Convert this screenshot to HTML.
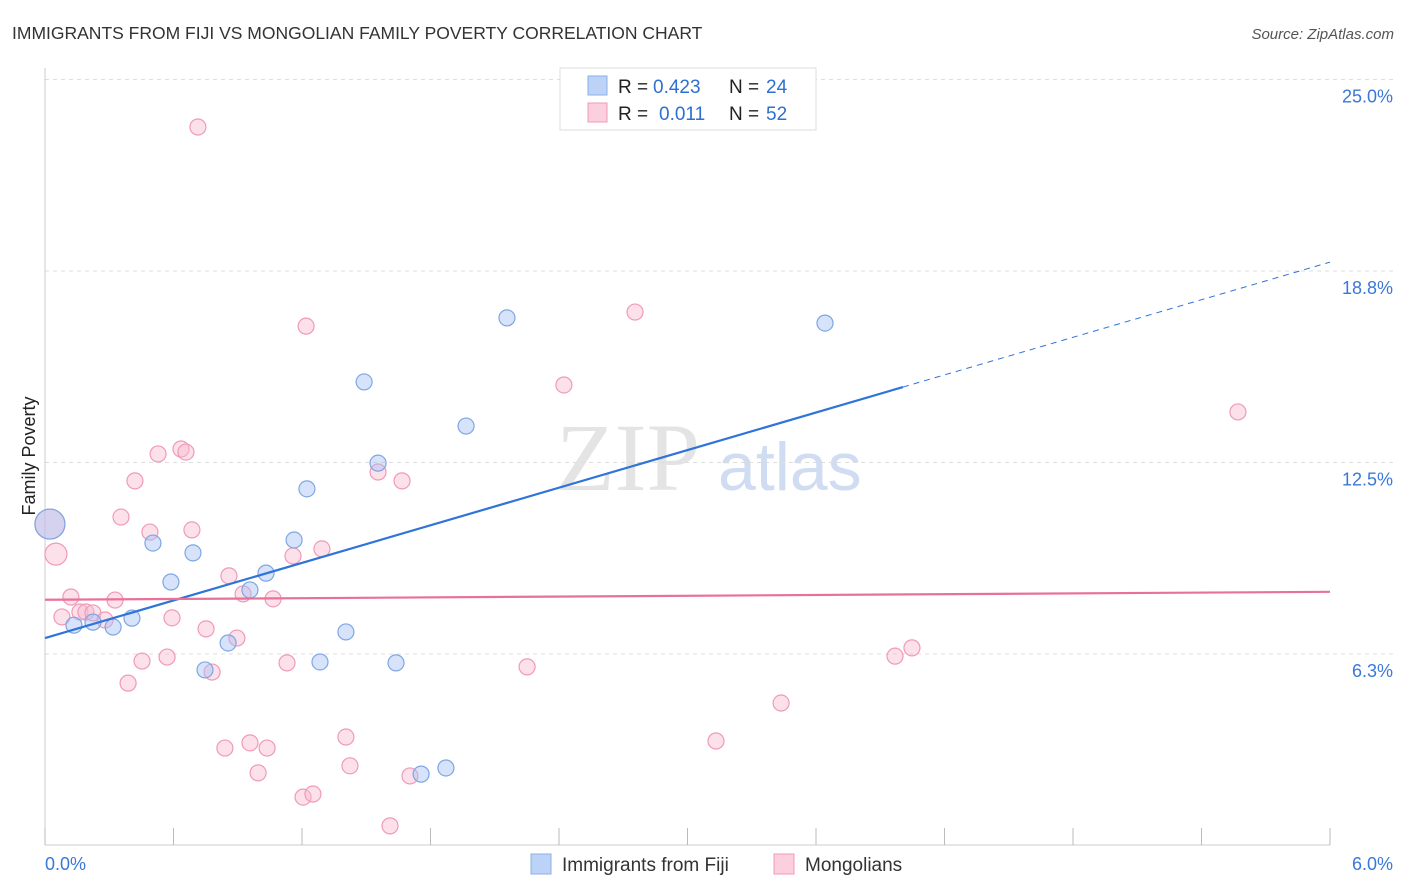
<!DOCTYPE html>
<html><head><meta charset="utf-8"><style>
body{margin:0;background:#fff;font-family:"Liberation Sans",sans-serif}
svg{display:block}
</style></head><body>
<svg id="chart" width="1406" height="892">
<text x="12" y="39" font-size="17.5" fill="#333">IMMIGRANTS FROM FIJI VS MONGOLIAN FAMILY POVERTY CORRELATION CHART</text>
<text x="1394" y="39" font-size="15" fill="#555" font-style="italic" text-anchor="end">Source: ZipAtlas.com</text>
<text x="35" y="456" font-size="18" fill="#222" text-anchor="middle" transform="rotate(-90 35 456)">Family Poverty</text>
<g><text x="556" y="490" font-family="Liberation Serif,serif" font-size="96" fill="#e4e4e4">ZIP</text><text x="718" y="490" font-size="68" fill="#cfdcf2">atlas</text></g>
<g id="grid"></g><g id="axes"></g><g id="marks"></g>
<g>
<rect x="560" y="68" width="256" height="62" fill="#fff" stroke="#ddd"/>
<rect x="588" y="76" width="19" height="19" fill="#bcd3f7" stroke="#8ab0e8"/>
<text x="618" y="93" font-size="19" fill="#222">R =</text>
<text x="653" y="93" font-size="19" fill="#2f6fd0">0.423</text>
<text x="729" y="93" font-size="19" fill="#222">N =</text>
<text x="766" y="93" font-size="19" fill="#2f6fd0">24</text>
<rect x="588" y="103" width="19" height="19" fill="#fbcfdd" stroke="#f09ab8"/>
<text x="618" y="120" font-size="19" fill="#222">R =</text>
<text x="659" y="120" font-size="19" fill="#2f6fd0">0.011</text>
<text x="729" y="120" font-size="19" fill="#222">N =</text>
<text x="766" y="120" font-size="19" fill="#2f6fd0">52</text>
</g>
<g>
<rect x="531" y="854" width="20" height="20" fill="#bcd3f7" stroke="#8ab0e8"/>
<text x="562" y="871" font-size="19" fill="#333">Immigrants from Fiji</text>
<rect x="774" y="854" width="20" height="20" fill="#fbcfdd" stroke="#f09ab8"/>
<text x="805" y="871" font-size="19" fill="#333">Mongolians</text>
</g>
</svg>
<script>
const blueX=[0.023,0.135,0.224,0.318,0.406,0.504,0.588,0.691,0.747,0.855,0.957,1.032,1.163,1.223,1.284,1.405,1.490,1.555,1.639,1.756,1.872,1.966,2.157,3.642];
const blueY=[10.49,7.19,7.29,7.13,7.42,9.87,8.60,9.55,5.73,6.61,8.34,8.89,9.97,11.64,5.99,6.97,15.13,12.48,5.96,2.33,2.53,13.69,17.22,17.05];
const pinkX=[0.023,0.051,0.079,0.121,0.163,0.191,0.224,0.280,0.327,0.355,0.388,0.420,0.453,0.490,0.528,0.570,0.593,0.635,0.658,0.686,0.714,0.752,0.780,0.840,0.859,0.896,0.925,0.957,0.995,1.037,1.065,1.130,1.158,1.205,1.219,1.251,1.293,1.405,1.424,1.555,1.611,1.667,1.704,2.251,2.423,2.755,3.133,3.437,3.969,4.048,5.570];
const pinkY=[10.49,9.51,7.46,8.11,7.62,7.62,7.59,7.36,8.01,10.72,5.30,11.90,6.02,10.23,12.78,6.15,7.43,12.94,12.84,10.30,23.45,7.07,5.66,3.18,8.80,6.77,8.21,3.35,2.37,3.18,8.05,5.96,9.45,1.58,16.95,1.68,9.68,3.54,2.60,12.19,0.64,11.90,2.27,5.83,15.03,17.41,3.41,4.65,6.18,6.45,14.15];
const blueTrend=[6.77,19.04]; const blueSolidEnd=4.006;
const pinkTrend=[8.02,8.28];
const yTicks=[6.25,12.5,18.75,25];
const yTickLabels=["6.3%","12.5%","18.8%","25.0%"];
const NS="http://www.w3.org/2000/svg";
const sx=v=>45+v*214.17, sy=v=>845.5-v*30.64;
function mk(t,a,p){const e=document.createElementNS(NS,t);for(const k in a)e.setAttribute(k,a[k]);p.appendChild(e);return e;}
const grid=document.getElementById('grid'),axes=document.getElementById('axes'),marks=document.getElementById('marks');
yTicks.forEach((v,i)=>{
 const l=mk('line',{x1:45,x2:1394,y1:sy(v),y2:sy(v),stroke:'#ddd','stroke-dasharray':'4,4'},grid);
 
 
 const t=mk('text',{x:1393,y:sy(v)+23,'font-size':18,fill:'#3a78d8','text-anchor':'end'},axes);t.textContent=yTickLabels[i];
 
 
});
let al=mk('line',{x1:45,x2:45,y1:68,y2:845,stroke:'#ccc'},axes);


let xl=mk('line',{x1:45,x2:1330,y1:845,y2:845,stroke:'#ccc'},axes);


for(let i=0;i<=10;i++){const t=mk('line',{x1:sx(i*0.6),x2:sx(i*0.6),y1:828,y2:845,stroke:'#bbb'},axes);
 
 }
let t0=mk('text',{x:45,y:870,'font-size':18,fill:'#3a78d8'},axes);t0.textContent='0.0%';


let t1=mk('text',{x:1393,y:870,'font-size':18,fill:'#3a78d8','text-anchor':'end'},axes);t1.textContent='6.0%';


function dots(xs,ys,fill,stroke,name,bigCount,bigR){xs.forEach((x,i)=>{const c=mk('circle',{cx:sx(x),cy:sy(ys[i]),r:i<bigCount?bigR[i]:8,fill:fill,stroke:stroke,'stroke-width':1.2},marks);
 
 });}
dots(pinkX,pinkY,'rgba(248,187,208,0.45)','#f09ab8','mongolians-point',2,[15,11]);
dots(blueX,blueY,'rgba(164,194,244,0.45)','#7ea6e4','fiji-point',1,[15]);
const bAt=x=>blueTrend[0]+(blueTrend[1]-blueTrend[0])*x/6;
let b1=mk('line',{x1:sx(0),y1:sy(bAt(0)),x2:sx(blueSolidEnd),y2:sy(bAt(blueSolidEnd)),stroke:'#2f74d8','stroke-width':2.2},marks);


let b2=mk('line',{x1:sx(blueSolidEnd),y1:sy(bAt(blueSolidEnd)),x2:sx(6),y2:sy(bAt(6)),stroke:'#2f74d8','stroke-width':1,'stroke-dasharray':'6,5'},marks);


let p1=mk('line',{x1:sx(0),y1:sy(pinkTrend[0]),x2:sx(6),y2:sy(pinkTrend[1]),stroke:'#e8719a','stroke-width':2.2},marks);


</script>
</body></html>
